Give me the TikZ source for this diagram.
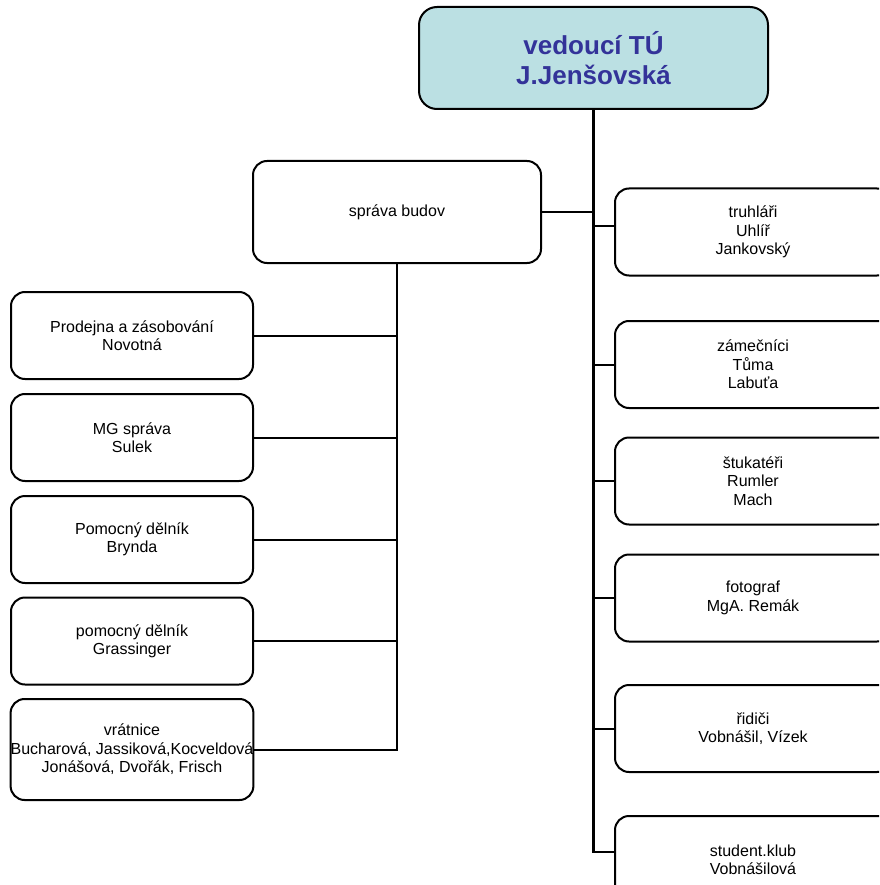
\documentclass[tikz,border=0pt]{standalone}
\usepackage{fontspec}
\setmainfont{Liberation Sans}
\usetikzlibrary{calc}
\usetikzlibrary{positioning}
\definecolor{headfill}{HTML}{BBE0E3}
\definecolor{headtext}{HTML}{333399}

\begin{document}
\begin{tikzpicture}[x=1pt, y=-1pt, line width=2pt,
    unit/.style={draw, rounded corners=14pt, align=center, inner sep=0pt,
        minimum width=242pt, minimum height=87pt, font=\fontsize{16}{18.4}\selectfont},
    crew/.style={unit, minimum width=276pt},
    trunk/.style={line width=2.6pt}]
    \useasboundingbox (0,0) rectangle (879,885);
    \clip (0,0) rectangle (879,885);
    % head and building management
    \node[unit, fill=headfill, minimum width=349pt, minimum height=102pt, rounded corners=18pt,
        text=headtext, font=\fontsize{26}{30}\selectfont\bfseries] at (593.5,58) (head) {vedoucí TÚ\\J.Jenšovská};
    \node[unit, minimum width=288pt, minimum height=102pt] at (397,212) (sprava) {správa budov};
    % left column
    \node[unit] at (132,335.5) (prodejna) {Prodejna a zásobování\\Novotná};
    \node[unit] at (132,437.5) (mg) {MG správa\\Sulek};
    \node[unit] at (132,539.5) (pomocny) {Pomocný dělník\\Brynda};
    \node[unit] at (132,641) (grassinger) {pomocný dělník\\Grassinger};
    \node[unit, minimum height=101pt] at (132,749.5) (vratnice) {vrátnice\\Bucharová, Jassiková,Kocveldová\\Jonášová, Dvořák, Frisch};
    % right column
    \node[crew] at (753,232) (truhlari) {truhláři\\Uhlíř\\Jankovský};
    \node[crew] at (753,364.5) (zamecnici) {zámečníci\\Tůma\\Labuťa};
    \node[crew] at (753,481) (stukateri) {štukatéři\\Rumler\\Mach};
    \node[crew] at (753,598) (fotograf) {fotograf\\MgA. Remák};
    \node[crew] at (753,728.5) (ridici) {řidiči\\Vobnášil, Vízek};
    \node[crew] at (753,859.5) (klub) {student.klub\\Vobnášilová};
    % connectors
    \coordinate (klubin) at ($(klub.west)+(0,-7.5)$);
    \coordinate (truhin) at ($(truhlari.west)+(0,-6)$);
    \draw[trunk] (head.south) |- (klubin);
    \draw (truhin) -- (truhin -| head.south);
    \draw (sprava.east) -- (sprava.east -| head.south);
    \foreach \n in {zamecnici, stukateri, fotograf, ridici}
        \draw (\n.west) -- (\n.west -| head.south);
    \draw (sprava.south) |- (vratnice.east);
    \foreach \n in {prodejna, mg, pomocny, grassinger}
        \draw (\n.east) -- (\n.east -| sprava.south);
\end{tikzpicture}
\end{document}
